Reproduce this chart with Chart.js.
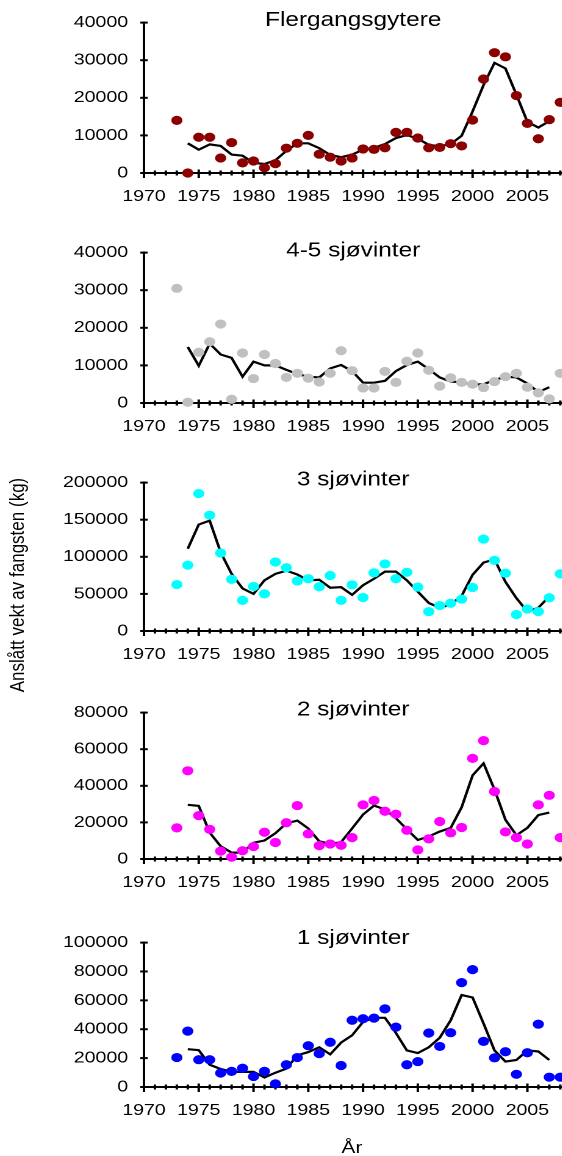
<!DOCTYPE html>
<html><head><meta charset="utf-8">
<script src="https://cdn.jsdelivr.net/npm/chart.js@4.4.0/dist/chart.umd.min.js"></script>
<style>
html,body{margin:0;padding:0;background:#fff;overflow:hidden;width:562px;height:1156px;}
#wrap{position:absolute;left:0;top:0;width:461px;height:1156px;transform:scaleX(1.22);transform-origin:0 0;}
canvas{position:absolute;left:0;}
.lbl{position:absolute;font-family:'Liberation Sans',Arial,sans-serif;color:#000;white-space:nowrap;font-size:17px;line-height:17px;}
</style></head>
<body><div id="wrap">
<div class="lbl" id="ytitle" style="left:13.6px;top:585px;transform:translate(-50%,-50%) rotate(-90deg);">Anslått vekt av fangsten (kg)</div>
<div class="lbl" id="xtitle" style="left:288.5px;top:1138.6px;transform:translateX(-50%);">År</div>
</div>
<script>
// ---- data ----
const pointYears = [1973,1974,1975,1976,1977,1978,1979,1980,1981,1982,1983,1984,1985,1986,1987,1988,1989,1990,1991,1992,1993,1994,1995,1996,1997,1998,1999,2000,2001,2002,2003,2004,2005,2006,2007,2008];
const lineYears  = [1974,1975,1976,1977,1978,1979,1980,1981,1982,1983,1984,1985,1986,1987,1988,1989,1990,1991,1992,1993,1994,1995,1996,1997,1998,1999,2000,2001,2002,2003,2004,2005,2006,2007];
const xTickLabels = [1970,1975,1980,1985,1990,1995,2000,2005];
const titles = ['Flergangsgytere','4-5 sjøvinter','3 sjøvinter','2 sjøvinter','1 sjøvinter'];

const flerPts = [14000,0,9500,9500,4000,8100,2700,3200,1400,2500,6600,7900,10000,5000,4200,3200,4000,6400,6300,6700,10800,10800,9300,6700,6800,7800,7200,14100,25000,32000,30900,20600,13200,9100,14200,18800];
const flerAvg = [7900,6200,7600,7200,4900,4600,2700,2400,3400,5900,7900,7900,6600,4800,4200,4900,6200,6700,7700,9300,10100,9100,7500,7100,7700,9900,16400,23400,29300,27800,20800,13600,12100,13800];

const sw45Pts = [30500,200,13500,16300,21000,1000,13300,6500,12900,10500,6800,7900,6600,5600,7900,13900,8600,4000,4000,8400,5500,11100,13300,8700,4500,6700,5500,5000,4100,5700,7000,7900,4200,2700,1100,7900];
const sw45Avg = [14900,9900,15800,12900,12000,7000,11000,10000,10000,8800,7700,7000,6800,9200,10100,8500,5400,5400,5900,8500,10100,11000,9000,6800,5700,5500,4900,5000,6100,7000,6800,5200,2900,4200];

const sw3Pts = [62600,88700,185200,156100,105200,69600,41300,60000,50000,93000,85200,67400,70400,59600,74800,41300,62200,45200,78300,90400,70400,79100,59100,26100,34300,37400,43000,58700,123900,95200,77800,22200,29600,26100,44800,77000];
const sw3Avg = [110900,143500,148700,106100,77000,57400,50000,68300,77000,81300,76100,68300,69100,58300,59100,48700,61700,70400,80000,80000,68300,53000,37800,31300,35700,47400,75700,92200,96500,66100,44300,26100,31300,46500];

const sw2Pts = [17000,48200,23700,16200,4300,1000,4500,6800,14600,9000,19800,29200,13700,7300,8200,7500,11700,29600,32000,26100,24500,15700,5000,11000,20500,14300,17200,55000,64700,36900,14800,11700,8200,29600,34800,11700];
const sw2Avg = [29600,29000,14400,7000,3500,3500,8900,10100,14100,19500,21000,16700,9700,8300,9200,16700,24300,29200,27100,22300,16200,10400,12300,15000,17000,28300,45700,52300,37900,21400,13000,17000,24000,25400];

const sw1Pts = [20400,38700,18900,18900,9700,10800,13000,7300,10800,2200,15400,20400,28600,23100,31000,14900,46200,47300,47700,54100,41500,15400,17600,37400,28100,37600,72300,81300,31600,20200,24400,8800,23700,43500,6800,6800];
const sw1Avg = [26200,25500,15400,12500,10500,10500,10500,6600,9900,12700,22000,24200,27500,22600,30800,35800,45100,47900,47900,37400,25300,23500,27500,34100,46200,63700,62000,44000,25300,17600,18700,25300,24600,18700];

const yMaxes = [40000,40000,200000,80000,100000];
const ySteps = [10000,10000,50000,20000,20000];

// ---- styles / layout ----
const colors = ['#8b0000','#c0c0c0','#00ffff','#ff00ff','#0000ff'];
const seriesPts = [flerPts,sw45Pts,sw3Pts,sw2Pts,sw1Pts];
const seriesAvg = [flerAvg,sw45Avg,sw3Avg,sw2Avg,sw1Avg];
const areaTop = [20,18,17,16,15];
const areaBottom = [173,173,171,169,167];
const titleBase = [26,26.5,25.5,25.5,24];
const W = 461, H = 230, AXIS_X = 118;
const FONT = "'Liberation Sans', Arial, sans-serif";
Chart.defaults.font.family = FONT;
Chart.defaults.color = '#000';

const decor = {
  id: 'decor',
  beforeDatasetsDraw(chart, args, opts) {
    const {ctx, chartArea: a, scales: {x, y}} = chart;
    ctx.save();
    ctx.strokeStyle = '#000';
    ctx.lineWidth = 2;
    for (const t of x.ticks) {
      const px = x.getPixelForValue(t.value);
      const major = xTickLabels.includes(t.value);
      ctx.beginPath();
      ctx.moveTo(px, a.bottom - (major ? 3.5 : 2.5));
      ctx.lineTo(px, a.bottom + (major ? 5 : 2.5));
      ctx.stroke();
    }
    for (const t of y.ticks) {
      const py = y.getPixelForValue(t.value);
      ctx.beginPath();
      ctx.moveTo(a.left - 3, py);
      ctx.lineTo(a.left + 3, py);
      ctx.stroke();
    }
    ctx.restore();
  },
  afterDraw(chart, args, opts) {
    const {ctx, chartArea: a} = chart;
    ctx.save();
    ctx.fillStyle = '#000';
    ctx.font = '20px ' + FONT;
    ctx.textAlign = 'center';
    ctx.textBaseline = 'alphabetic';
    ctx.fillText(opts.title, (a.left + a.right) / 2, opts.base);
    ctx.restore();
  }
};

const wrap = document.getElementById('wrap');
for (let i = 0; i < 5; i++) {
  const cv = document.createElement('canvas');
  cv.width = W; cv.height = H;
  cv.style.width = W + 'px'; cv.style.height = H + 'px';
  cv.style.top = (i * 230) + 'px';
  wrap.appendChild(cv);
  new Chart(cv, {
    type: 'scatter',
    data: {
      datasets: [
        {
          data: pointYears.map((yr, k) => ({x: yr, y: seriesPts[i][k]})),
          backgroundColor: colors[i], borderColor: colors[i], borderWidth: 0,
          pointRadius: 4.6, pointHoverRadius: 4.6, clip: false
        },
        {
          data: lineYears.map((yr, k) => ({x: yr, y: seriesAvg[i][k]})),
          showLine: true, borderColor: '#000', borderWidth: 2.2, pointRadius: 0,
          tension: 0, clip: false
        }
      ]
    },
    options: {
      responsive: false, animation: false, events: [], devicePixelRatio: 2,
      layout: {autoPadding: false, padding: {top: areaTop[i], left: 0, right: 0, bottom: 0}},
      plugins: {
        legend: {display: false}, tooltip: {enabled: false}, title: {display: false},
        decor: {title: titles[i], base: titleBase[i]}
      },
      scales: {
        x: {
          type: 'linear', min: 1970, max: 2008.2,
          afterFit: s => { s.height = H - areaBottom[i]; s.paddingRight = 0; s.paddingLeft = 0; },
          grid: {display: true, drawOnChartArea: false, drawTicks: false},
          border: {display: true, color: '#000', width: 2},
          ticks: {
            stepSize: 1, autoSkip: false, includeBounds: false, maxRotation: 0,
            padding: 14, color: '#000', font: {size: 16},
            callback: v => xTickLabels.includes(v) ? String(v) : ''
          }
        },
        y: {
          min: 0, max: yMaxes[i],
          afterFit: s => { s.width = AXIS_X; },
          grid: {display: true, drawOnChartArea: false, drawTicks: false},
          border: {display: true, color: '#000', width: 2},
          ticks: {stepSize: ySteps[i], padding: 13, color: '#000', font: {size: 16},
                  callback: v => String(v)}
        }
      }
    },
    plugins: [decor]
  });
}
</script>
</body></html>
